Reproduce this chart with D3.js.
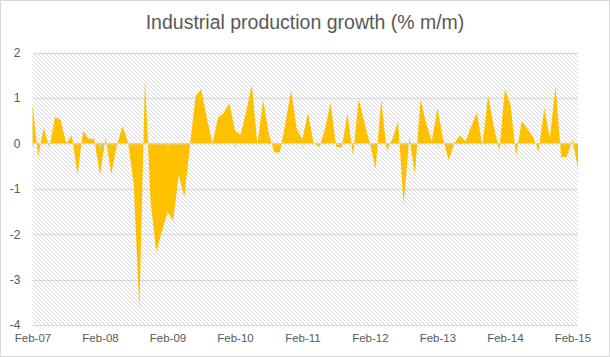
<!DOCTYPE html>
<html><head><meta charset="utf-8">
<script src="https://cdn.jsdelivr.net/npm/d3@7/dist/d3.min.js"></script>
<style>
html,body{margin:0;padding:0;background:#fff;}
text{font-family:"Liberation Sans",Arial,sans-serif;fill:#595959;}
</style></head>
<body><svg id="c" width="610" height="357"></svg>
<script>
const title = "Industrial production growth (% m/m)";
const firstMonth = "2007-02";
const values = [
 0.86,-0.29,0.35,-0.10,0.58,0.51,0.00,0.17,-0.69,0.27,0.10,0.09,
 -0.70,0.14,-0.68,-0.05,0.38,0.02,-0.90,-3.67,1.44,-1.28,-2.38,-1.95,
 -1.52,-1.70,-0.70,-1.18,-0.05,1.04,1.19,0.55,0.00,0.57,0.67,0.89,
 0.28,0.19,0.70,1.29,-0.04,0.96,0.22,-0.20,-0.20,0.47,1.17,0.30,
 0.10,0.67,0.00,-0.09,0.31,0.89,-0.08,-0.09,0.66,-0.28,0.98,0.46,
 0.00,-0.57,0.96,-0.17,0.10,0.48,-1.35,0.14,-0.68,0.97,0.44,0.04,
 0.77,0.10,-0.37,0.00,0.18,0.04,0.37,0.68,-0.06,1.06,0.38,-0.17,
 1.19,0.85,-0.28,0.49,0.32,0.14,-0.18,0.77,0.11,1.27,-0.30,-0.30,
 0.08,-0.55
];
const tickLabels = ["Feb-07","Feb-08","Feb-09","Feb-10","Feb-11","Feb-12","Feb-13","Feb-14","Feb-15"];
const yTicks = [2,1,0,-1,-2,-3,-4];

const parse = d3.timeParse("%Y-%m");
const start = parse(firstMonth);
const months = values.map((v,i)=>d3.timeMonth.offset(start,i));
const data = values.map((v,i)=>({i, date: months[i], v}));

const svg = d3.select("#c");
const W=610,H=357;
const L=32.5,R=578,T=52.5,B=325;

svg.append("rect").attr("x",0.5).attr("y",0.5).attr("width",W-1).attr("height",H-1)
  .attr("fill","#fff").attr("stroke","#d9d9d9");

const defs = svg.append("defs");
const pat = defs.append("pattern").attr("id","hatch").attr("patternUnits","userSpaceOnUse")
  .attr("width",4).attr("height",4);
pat.append("rect").attr("width",4).attr("height",4).attr("fill","#fff");
pat.append("path").attr("d","M-1,-1L5,5M3,-1L5,1M-1,3L1,5")
  .attr("stroke","#d6d6d6").attr("stroke-width",1);

const x = d3.scaleLinear().domain([0, values.length-1]).range([L,R]);
const y = d3.scaleLinear().domain([d3.min(yTicks), d3.max(yTicks)]).range([B,T]);

svg.append("rect").attr("x",L).attr("y",T).attr("width",R-L).attr("height",B-T).attr("fill","url(#hatch)");

// gridlines
svg.append("g").attr("transform",`translate(${L},0)`)
  .call(d3.axisLeft(y).tickValues(yTicks).tickSize(-(R-L)).tickFormat(""))
  .call(g=>g.select(".domain").remove())
  .call(g=>g.selectAll("line").attr("stroke","#d9d9d9").attr("shape-rendering","crispEdges"));

// area
const area = d3.area().x(d=>x(d.i)).y0(y(0)).y1(d=>y(d.v));
svg.append("path").datum(data).attr("d",area).attr("fill","#ffc000");

// zero axis with yearly ticks
const tickIdx = tickLabels.map((t,k)=>k*12);
svg.append("g").attr("transform",`translate(0,${y(0)})`)
  .call(d3.axisBottom(x).tickValues(tickIdx).tickSize(5).tickFormat(""))
  .call(g=>g.select(".domain").attr("stroke","#d9d9d9").attr("d",`M${L},0.5H${R}`))
  .call(g=>g.selectAll("line").attr("stroke","#d9d9d9"));

// y labels
svg.append("g").attr("transform",`translate(${L},0)`)
  .call(d3.axisLeft(y).tickValues(yTicks).tickSize(0).tickPadding(12).tickFormat(d=>String(d)))
  .call(g=>g.select(".domain").remove())
  .call(g=>g.selectAll("text").attr("font-size","12px").style("fill","#595959")
     .style("font-family","'Liberation Sans',Arial,sans-serif"));

// x labels
svg.append("g").attr("transform",`translate(0,${B})`)
  .call(d3.axisBottom(x).tickValues(tickIdx).tickSize(0).tickPadding(9).tickFormat((d,k)=>tickLabels[k]))
  .call(g=>g.select(".domain").remove())
  .call(g=>g.selectAll("text").attr("font-size","11.5px").style("fill","#595959")
     .style("font-family","'Liberation Sans',Arial,sans-serif"));

svg.append("text").attr("x",W/2).attr("y",29).attr("text-anchor","middle")
  .attr("font-size","19.5px").text(title);
</script></body></html>
